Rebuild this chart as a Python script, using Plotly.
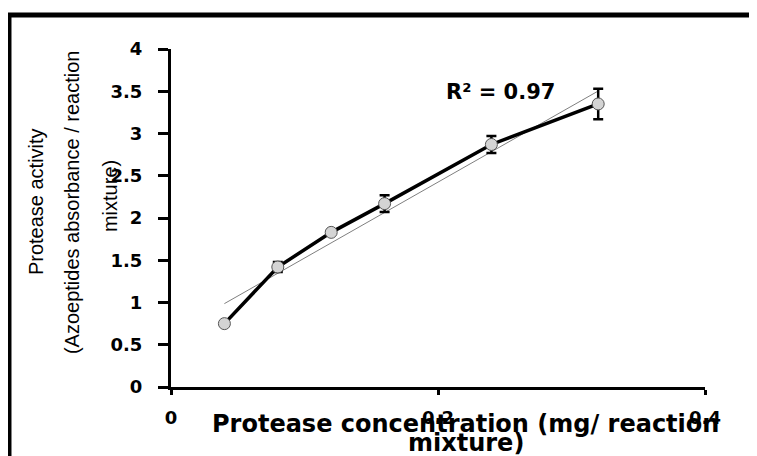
import numpy as np
import plotly.graph_objects as go

# Data
conc = [0.04, 0.08, 0.12, 0.16, 0.24, 0.32]
activity = [0.75, 1.42, 1.83, 2.17, 2.87, 3.35]
err = [0.0, 0.06, 0.0, 0.1, 0.1, 0.18]
x_ticks = [0, 0.2, 0.4]
x_tick_labels = ["0", "0.2", "0.4"]
y_ticks = [0, 0.5, 1, 1.5, 2, 2.5, 3, 3.5, 4]
y_tick_labels = ["0", "0.5", "1", "1.5", "2", "2.5", "3", "3.5", "4"]
r2_label = "R² = 0.97"

# Linear trend line from the data
slope, intercept = np.polyfit(conc, activity, 1)
trend_x = [conc[0], conc[-1]]
trend_y = [slope * v + intercept for v in trend_x]

fig = go.Figure()
fig.add_trace(go.Scatter(
    x=trend_x, y=trend_y, mode="lines",
    line=dict(color="#7f7f7f", width=1), showlegend=False, hoverinfo="skip"))
fig.add_trace(go.Scatter(
    x=conc, y=activity, mode="lines+markers",
    line=dict(color="black", width=3.5),
    marker=dict(symbol="circle", size=12, color="#d4d4d4",
                line=dict(color="#555555", width=1)),
    error_y=dict(type="data", array=err, visible=True, color="black",
                 thickness=2.5, width=5),
    showlegend=False))

tick_font = dict(family="DejaVu Sans", size=18, color="black", weight="bold")

fig.update_layout(
    width=749, height=448,
    margin=dict(l=163, r=52, t=41, b=69),
    paper_bgcolor="white", plot_bgcolor="white",
    xaxis=dict(range=[0, 0.4], tickvals=x_ticks, ticktext=x_tick_labels,
               showgrid=False, zeroline=False, showline=True,
               linecolor="black", linewidth=3, ticks="outside",
               ticklen=5, tickwidth=3, tickcolor="black",
               tickfont=tick_font, ticklabelstandoff=7),
    yaxis=dict(range=[0, 4], tickvals=y_ticks, ticktext=y_tick_labels,
               showgrid=False, zeroline=False, showline=True,
               linecolor="black", linewidth=3, ticks="outside",
               ticklen=10, tickwidth=3, tickcolor="black",
               tickfont=tick_font, ticklabelstandoff=12),
    shapes=[dict(type="rect", xref="paper", yref="paper",
                 x0=-0.3034, y0=-0.2456, x1=1.1217, y1=1.1006,
                 line=dict(color="black", width=5), layer="above")],
)

# Y-axis title lines
ytitle_font = dict(family="Liberation Sans", size=20, color="black")
for txt, xp, yp in [("Protease activity", -0.2528, 0.547),
                    ("(Azoeptides absorbance / reaction", -0.1854, 0.547),
                    ("mixture)", -0.1142, 0.565)]:
    fig.add_annotation(text=txt, xref="paper", yref="paper", x=xp, y=yp,
                       textangle=-90, showarrow=False, font=ytitle_font,
                       xanchor="center", yanchor="middle")

# X-axis title lines
xtitle_font = dict(family="DejaVu Sans", size=24, color="black", weight="bold")
for txt, yp in [("Protease concentration (mg/ reaction", -0.110),
                ("mixture)", -0.166)]:
    fig.add_annotation(text=txt, xref="paper", yref="paper", x=0.552, y=yp,
                       showarrow=False, font=xtitle_font,
                       xanchor="center", yanchor="middle")

# R² label
fig.add_annotation(text=r2_label, xref="paper", yref="paper",
                   x=(500 - 171) / 534, y=(387 - 92) / 338,
                   showarrow=False, xanchor="center", yanchor="middle",
                   font=dict(family="DejaVu Sans", size=21, color="black",
                             weight="bold"))

fig.write_html("out.html")
